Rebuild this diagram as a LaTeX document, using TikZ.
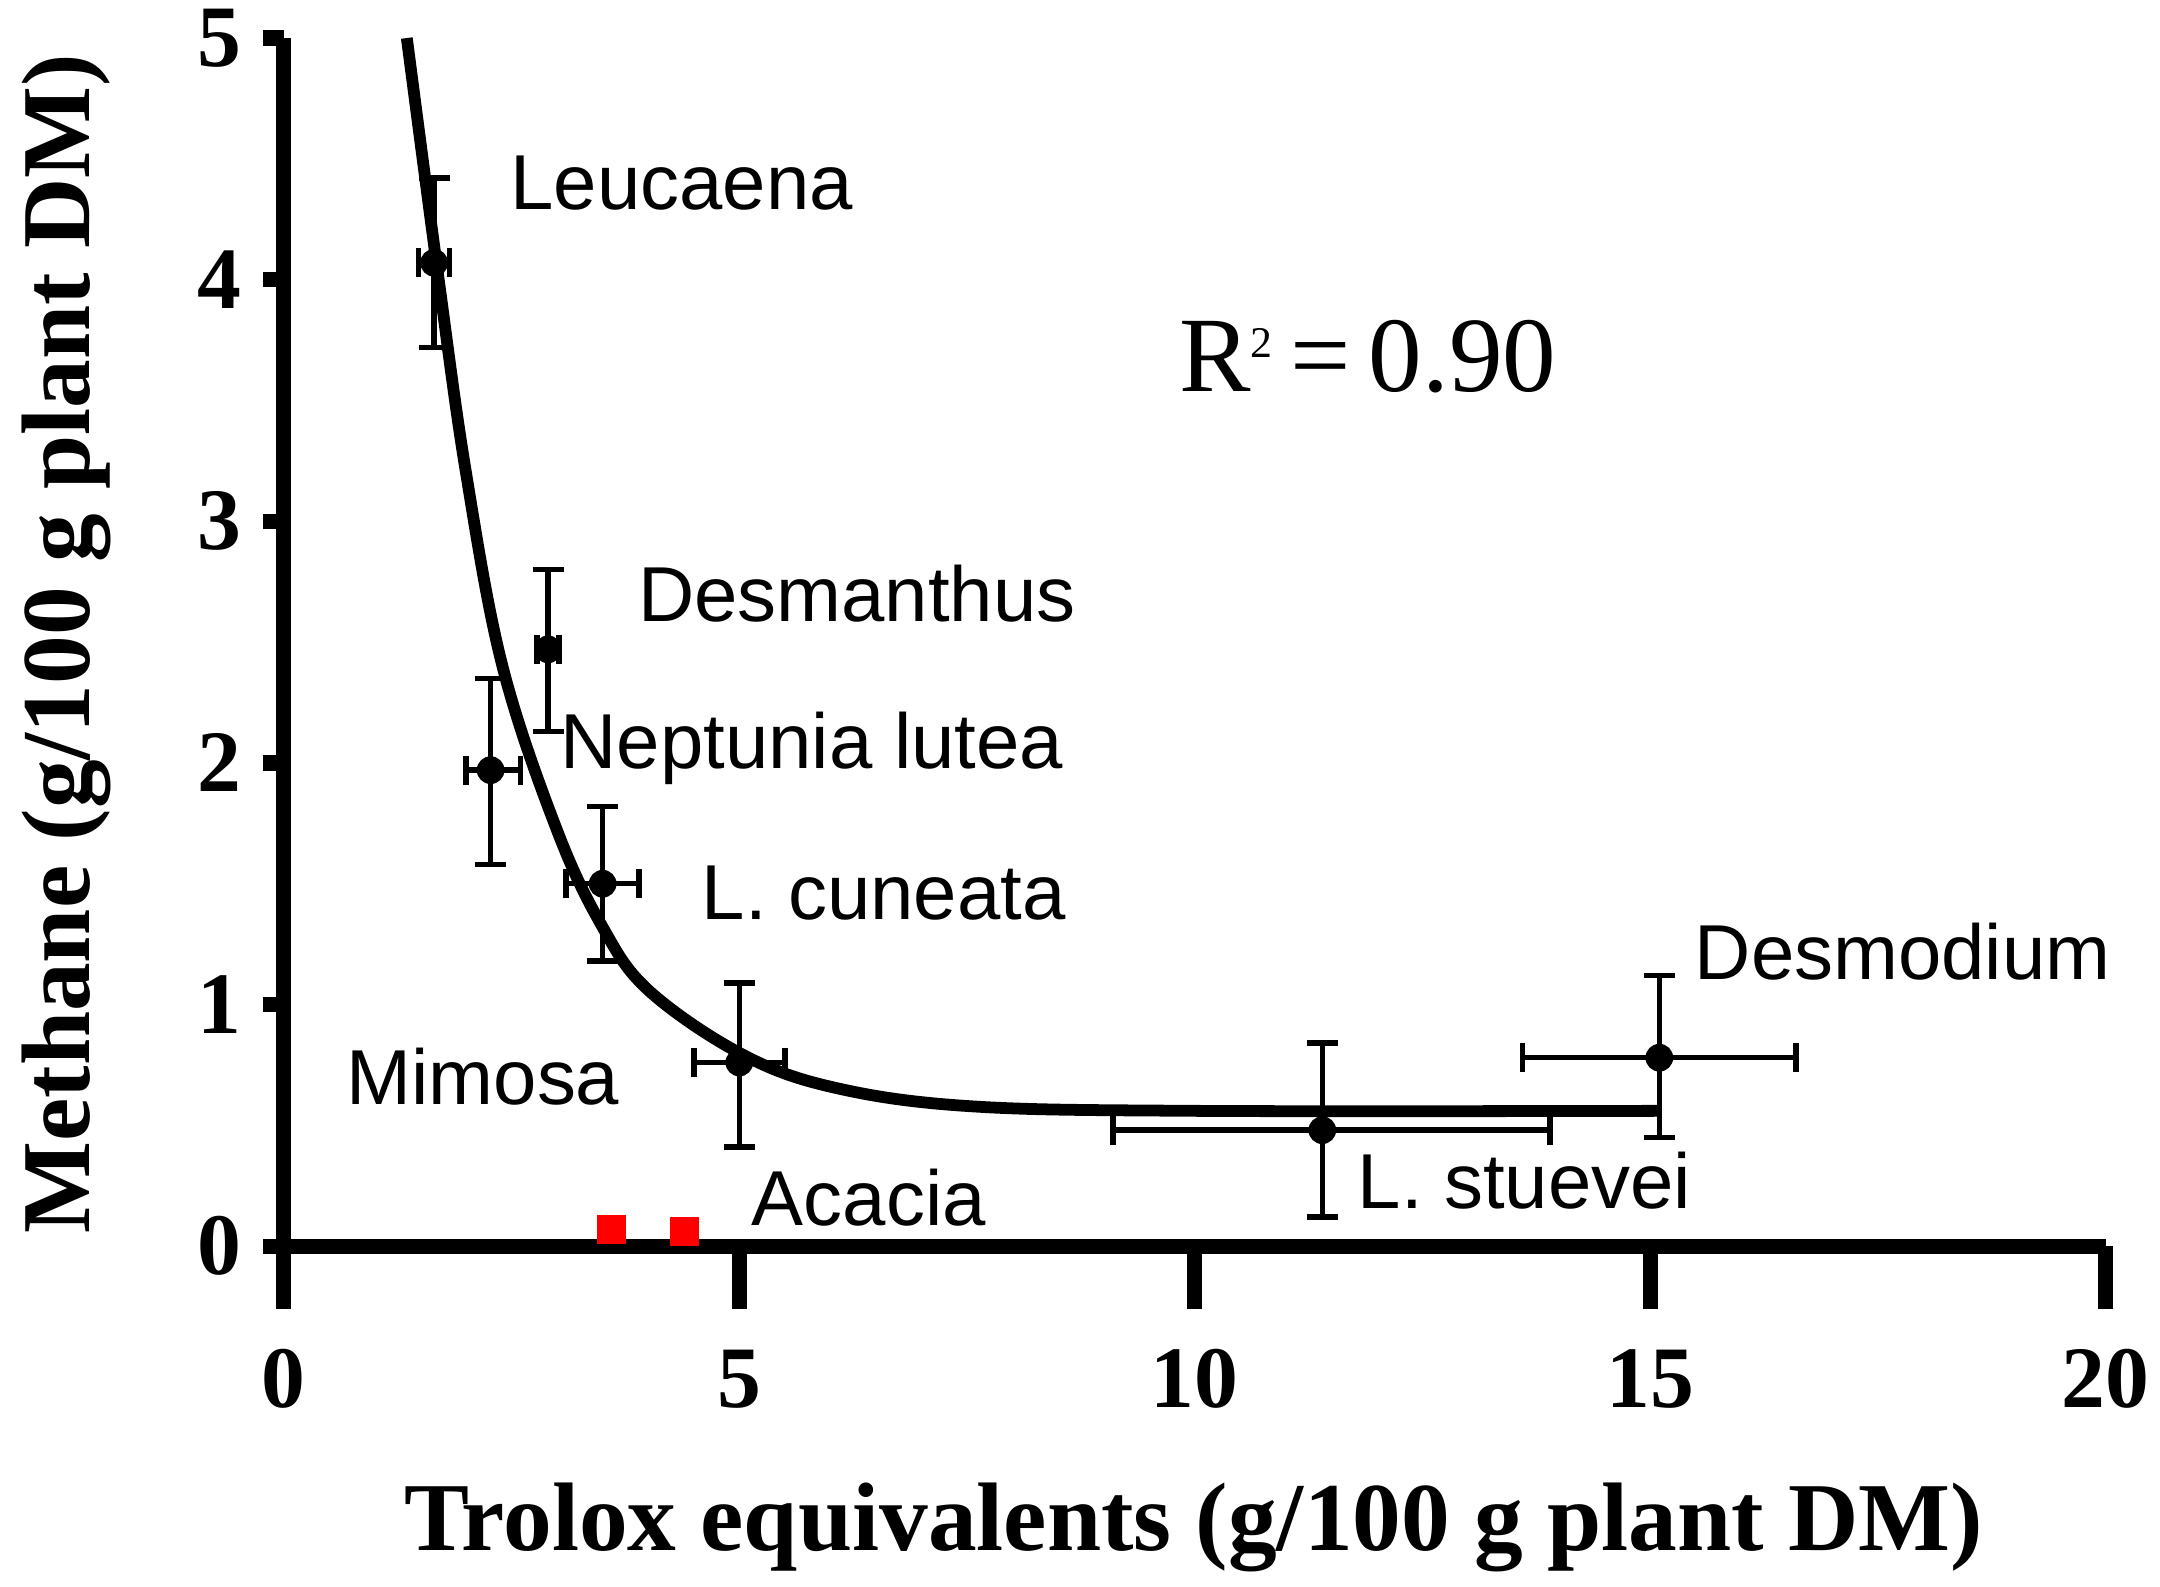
\documentclass[tikz,border=0pt]{standalone}
\usepackage{fontspec}
\setmainfont{Liberation Serif}
\newfontfamily\lab{Liberation Sans}
\begin{document}
\begin{tikzpicture}[x=0.01cm,y=-0.01cm,
  ax/.style={line width=0.11cm},
  eb/.style={line width=0.04cm},
  tick/.style={font=\bfseries\fontsize{18}{18}\selectfont},
  lbl/.style={font=\lab\fontsize{16}{16}\selectfont,anchor=west},
  dot/.style={circle,fill=black,inner sep=0pt,minimum size=0.2cm}]
\useasboundingbox (0,0) rectangle (1560,1146);
\begin{scope}[shift={(205,900)},x=0.6575cm,y=1.744cm]
 \draw[ax] (0,5) -- (0,-0.26);
 \draw[ax] (-0.23,0) -- (20,0);
 \foreach \v in {0,5,10,15,20}{\draw[ax] (\v,0)--(\v,-0.26); \node[tick] at (\v,-0.55) {\v};}
 \foreach \v in {0,...,5}{\draw[ax] (0,\v)--(-0.23,\v); \node[tick,anchor=east] at (-0.28,\v) {\v};}
 \draw[line width=0.085cm] plot[smooth,tension=0.6] coordinates {(1.35,5) (1.7,4.0) (2.0,3.2) (2.4,2.4) (3.0,1.72) (3.5,1.32) (4.0,1.06) (5,0.8) (6,0.66) (7.5,0.58) (10,0.56) (15.1,0.56)};
 \foreach \x/\y/\xa/\xb/\ya/\yb [count=\i] in {1.65/4.07/1.48/1.82/3.72/4.42, 2.9/2.47/2.78/3.02/2.13/2.8, 2.27/1.97/2.0/2.6/1.58/2.35, 3.5/1.5/3.1/3.9/1.18/1.82, 5/0.76/4.5/5.5/0.41/1.09, 11.4/0.48/9.1/13.9/0.12/0.84, 15.1/0.78/13.6/16.6/0.45/1.12}{
   \node[dot] (p\i) at (\x,\y) {};
   \draw[eb] (\xa,\y)--(\xb,\y) (\xa,\y-0.06)--(\xa,\y+0.06) (\xb,\y-0.06)--(\xb,\y+0.06);
   \draw[eb] (\x,\ya)--(\x,\yb) (\x-0.17,\ya)--(\x+0.17,\ya) (\x-0.17,\yb)--(\x+0.17,\yb);
 }
 \fill[red] (3.6,0.07) +(-0.16,-0.06) rectangle +(0.16,0.06);
 \fill[red] (4.4,0.06) +(-0.16,-0.06) rectangle +(0.16,0.06);
 \node[lbl] (n1) at (2.3,4.4) {Leucaena};
 \node[lbl] (n2) at (3.7,2.7) {Desmanthus};
 \node[lbl] (n3) at (2.85,2.06) {Neptunia lutea};
 \node[lbl] (n4) at (4.4,1.46) {L. cuneata};
 \node[lbl] (n5) at (0.5,0.7) {Mimosa};
 \node[lbl] (n6) at (4.95,0.2) {Acacia};
 \node[lbl] (n7) at (11.6,0.27) {L. stuevei};
 \node[lbl] (n8) at (15.3,1.22) {Desmodium};
 \node[font=\fontsize{22}{22}\selectfont] (r) at (11.9,3.68) {R\raisebox{0.7ex}{\fontsize{9}{9}\selectfont 2}\,=\,0.90};
\end{scope}
\node[font=\bfseries\fontsize{20}{20}\selectfont] (xt) at (862,1103) {Trolox equivalents (g/100 g plant DM)};
\node[font=\bfseries\fontsize{20}{20}\selectfont,rotate=90] (yt) at (48,465) {Methane (g/100 g plant DM)};
\end{tikzpicture}
\end{document}
